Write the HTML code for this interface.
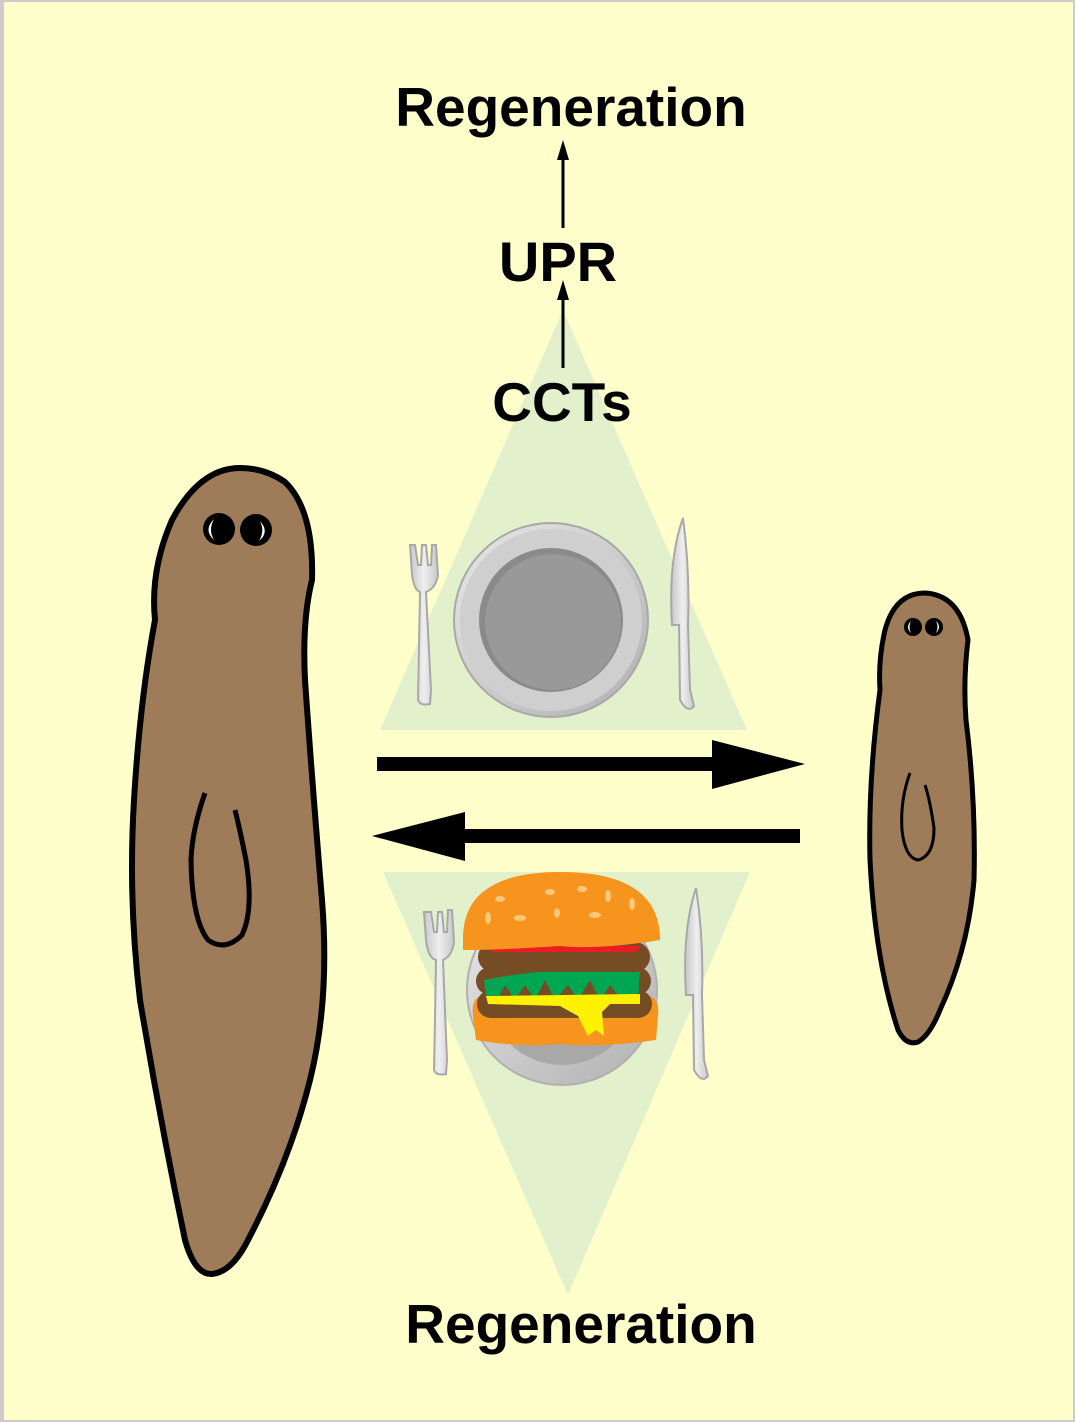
<!DOCTYPE html>
<html><head><style>
html,body{margin:0;padding:0;background:#fff}
svg{display:block}
text{font-family:"Liberation Sans",Arial,sans-serif;font-weight:bold;fill:#000}
</style></head><body>
<svg width="1075" height="1422" viewBox="0 0 1075 1422" xmlns="http://www.w3.org/2000/svg">
<defs>
<linearGradient id="pl" x1="0" y1="0" x2="1" y2="1"><stop offset="0" stop-color="#e8e8e8"/><stop offset="1" stop-color="#b0b0b0"/></linearGradient>
<linearGradient id="cut" x1="0" y1="0" x2="1" y2="0"><stop offset="0" stop-color="#c8c8c8"/><stop offset="0.5" stop-color="#eeeeee"/><stop offset="1" stop-color="#c8c8c8"/></linearGradient>
</defs>
<rect x="0" y="0" width="1075" height="1422" fill="#cccccc"/>
<rect x="4" y="2" width="1069" height="1418" fill="#ffffcc"/>
<polygon points="563,310 747,730 380,730" fill="#e3f0cc"/>
<polygon points="383,872 750,872 568,1295" fill="#e3f0cc"/>
<circle cx="551" cy="620" r="97" fill="url(#pl)" stroke="#a8a8a8" stroke-width="2"/>
<circle cx="551" cy="620" r="91" fill="#cfcfcf"/>
<circle cx="551" cy="620" r="72" fill="#8a8a8a"/>
<circle cx="553" cy="622" r="68" fill="#999"/>
<path d="M410,545 L412,575 Q414,590 420,592 L418,700 Q420,706 430,704 L431,690 L426,592 Q436,588 438,575 L436,545 L432,545 L431,565 L428,565 L426,545 L422,545 L421,565 L418,565 L415,545 Z" fill="url(#cut)" stroke="#a8a8a8" stroke-width="2"/>
<path d="M683,518 Q668,560 672,625 L679,625 L680,700 Q688,714 694,706 L690,690 L688,625 Q690,570 683,518 Z" fill="url(#cut)" stroke="#a8a8a8" stroke-width="2"/>
<circle cx="562" cy="990" r="95" fill="url(#pl)" stroke="#b0b0b0" stroke-width="2"/>
<circle cx="562" cy="990" r="75" fill="#a8a8a8"/>
<path d="M424,912 L426,940 Q428,958 436,960 L434,1070 Q436,1076 446,1074 L447,1060 L443,960 Q452,956 454,942 L452,910 L448,910 L447,932 L444,932 L442,912 L438,912 L437,932 L434,932 L431,912 Z" fill="url(#cut)" stroke="#a8a8a8" stroke-width="2"/>
<path d="M696,888 Q682,930 686,995 L693,995 L694,1070 Q702,1084 708,1076 L704,1060 L702,995 Q704,940 696,888 Z" fill="url(#cut)" stroke="#a8a8a8" stroke-width="2"/>
<path d="M473,1016 Q471,1000 480,996 L650,996 Q660,1000 658,1016 L656,1040 Q600,1048 560,1044 Q520,1048 476,1040 Z" fill="#f7941d"/>
<rect x="477" y="990" width="175" height="28" rx="14" fill="#754c24"/>
<rect x="476" y="967" width="175" height="28" rx="14" fill="#754c24"/>
<path d="M484,980 Q560,965 640,970 L638,1000 L620,998 L610,985 L600,1000 L590,980 L578,1000 L568,985 L555,1000 L545,980 L535,1000 L525,985 L515,1000 L505,985 L495,1004 L486,995 Z" fill="#00a651"/>
<path d="M486,996 L640,994 L640,1004 L610,1004 L602,1012 L604,1036 L596,1030 L588,1036 L578,1016 L560,1006 L488,1004 Z" fill="#fff200"/>
<rect x="478" y="942" width="172" height="30" rx="15" fill="#754c24"/>
<path d="M490,946 L640,946 L636,952 L492,952 Z" fill="#ed1c24"/>
<path d="M463,940 Q462,872 560,872 Q660,872 660,940 Q600,950 560,946 Q500,950 463,950 Z" fill="#f7941d"/>
<g fill="#fbc77a">
<ellipse cx="500" cy="899" rx="5" ry="3"/><ellipse cx="550" cy="892" rx="5" ry="3"/><ellipse cx="582" cy="889" rx="5" ry="3"/><ellipse cx="608" cy="896" rx="3" ry="6"/><ellipse cx="632" cy="904" rx="3" ry="6"/><ellipse cx="488" cy="918" rx="3" ry="6"/><ellipse cx="520" cy="918" rx="6" ry="3"/><ellipse cx="557" cy="913" rx="3" ry="5"/><ellipse cx="595" cy="915" rx="6" ry="3"/>
</g>
<path d="M240,468 Q200,468 172,520 Q150,570 155,620 Q140,700 134,800 Q128,900 140,1000 Q160,1120 185,1240 Q195,1275 212,1274 Q232,1272 248,1240 Q290,1160 310,1080 Q330,1000 322,900 Q312,780 305,680 Q302,620 312,580 Q314,510 285,482 Q265,468 240,468 Z" fill="#9e7b59" stroke="#000" stroke-width="6"/>
<path d="M205,793 Q192,830 191,860 Q192,920 208,940 Q225,952 242,935 Q254,910 246,860 Q240,830 235,810" fill="none" stroke="#000" stroke-width="5"/>
<circle cx="219" cy="529" r="16" fill="#000"/><circle cx="256" cy="530" r="16" fill="#000"/>
<path d="M214,519 Q203,530 214,540 Q208,530 214,519 Z" fill="#fff"/>
<path d="M260,521 Q270,532 259,541 Q265,531 260,521 Z" fill="#fff"/>
<path d="M925,593 Q895,593 885,630 Q878,660 880,690 Q868,780 870,860 Q875,960 898,1030 Q906,1046 918,1042 Q930,1035 940,1010 Q968,950 974,880 Q976,800 966,720 Q963,680 968,640 Q960,595 925,593 Z" fill="#9e7b59" stroke="#000" stroke-width="5"/>
<path d="M910,773 Q900,800 902,830 Q905,858 918,860 Q934,856 934,828 Q930,800 925,785" fill="none" stroke="#000" stroke-width="3"/>
<circle cx="913" cy="627" r="9" fill="#000"/><circle cx="934" cy="627" r="9" fill="#000"/>
<path d="M911,621 Q905,627 911,633 Q908,627 911,621Z" fill="#fff"/>
<path d="M936,621 Q942,627 936,633 Q939,627 936,621Z" fill="#fff"/>
<rect x="377" y="757" width="340" height="14" fill="#000"/>
<polygon points="712,740 805,764 712,789" fill="#000"/>
<rect x="460" y="829" width="340" height="14" fill="#000"/>
<polygon points="465,812 372,836 465,861" fill="#000"/>
<line x1="563" y1="228" x2="563" y2="155" stroke="#000" stroke-width="3"/>
<polygon points="557,160 563,140 569,160" fill="#000"/>
<line x1="563" y1="368" x2="563" y2="295" stroke="#000" stroke-width="3"/>
<polygon points="557,300 563,280 569,300" fill="#000"/>
<text x="571" y="126" font-size="55" text-anchor="middle">Regeneration</text>
<text x="558" y="281" font-size="56" text-anchor="middle">UPR</text>
<text x="562" y="421" font-size="55" text-anchor="middle">CCTs</text>
<text x="581" y="1343" font-size="55" text-anchor="middle">Regeneration</text>
</svg>
</body></html>
